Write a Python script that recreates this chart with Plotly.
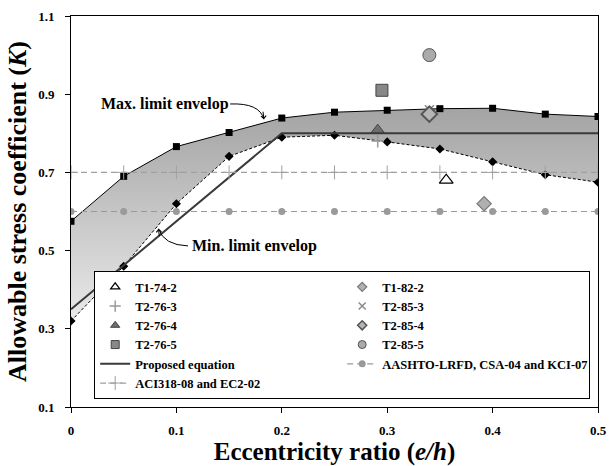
import plotly.graph_objects as go

# Eccentricity ratios at which the envelopes and code limits are evaluated
ecc = [0, 0.05, 0.1, 0.15, 0.2, 0.25, 0.3, 0.35, 0.4, 0.45, 0.5]
k_max = [0.575, 0.69, 0.766, 0.802, 0.839, 0.854, 0.859, 0.863, 0.864, 0.849, 0.843]
k_min = [0.32, 0.46, 0.62, 0.741, 0.79, 0.795, 0.778, 0.76, 0.727, 0.694, 0.675]

# Proposed equation (linear up to e/h = 0.2, then constant)
prop_x = [0, 0.2, 0.5]
prop_k = [0.35, 0.8, 0.8]

# Code limits
aci_k = [0.7] * len(ecc)
aashto_k = [0.6] * len(ecc)

# Axis tick labels
x_ticks = [0, 0.1, 0.2, 0.3, 0.4, 0.5]
x_tick_text = ["0", "0.1", "0.2", "0.3", "0.4", "0.5"]
y_ticks = [0.1, 0.3, 0.5, 0.7, 0.9, 1.1]
y_tick_text = ["0.1", "0.3", "0.5", "0.7", "0.9", "1.1"]

# Test results
tests = {
    "T1-74-2": (0.356, 0.68),
    "T1-82-2": (0.392, 0.62),
    "T2-76-3": (0.291, 0.78),
    "T2-85-3": (0.34, 0.86),
    "T2-76-4": (0.291, 0.808),
    "T2-85-4": (0.34, 0.849),
    "T2-76-5": (0.295, 0.91),
    "T2-85-5": (0.34, 1.0),
}

SERIF = "Liberation Serif"

test_style = {
    "T1-74-2": dict(symbol="triangle-up", size=12, color="white", line=dict(color="black", width=1.2)),
    "T1-82-2": dict(symbol="diamond", size=11, color="#b0b0b0", line=dict(color="#777777", width=1.2)),
    "T2-76-3": dict(symbol="cross-thin", size=9, color="#999999", line=dict(color="#999999", width=1.5)),
    "T2-85-3": dict(symbol="x-thin", size=9, color="#888888", line=dict(color="#888888", width=1.5)),
    "T2-76-4": dict(symbol="triangle-up", size=12, color="#6e6e6e", line=dict(color="#444444", width=1)),
    "T2-85-4": dict(symbol="diamond", size=12, color="#b5b5b5", line=dict(color="#555555", width=2)),
    "T2-76-5": dict(symbol="square", size=12, color="#888888", line=dict(color="#444444", width=1)),
    "T2-85-5": dict(symbol="circle", size=13, color="#aaaaaa", line=dict(color="#555555", width=1)),
}
# Smaller glyphs for the legend key
legend_size = {"T1-74-2": 8, "T1-82-2": 7, "T2-76-3": 8, "T2-85-3": 7,
               "T2-76-4": 8, "T2-85-4": 7, "T2-76-5": 8, "T2-85-5": 8}

fig = go.Figure()

# Max. limit envelope
fig.add_trace(go.Scatter(
    x=ecc, y=k_max, mode="lines+markers", showlegend=False,
    line=dict(color="black", width=1),
    marker=dict(symbol="square", size=7, color="black"),
))
# Min. limit envelope, shaded up to the max. envelope
fig.add_trace(go.Scatter(
    x=ecc, y=k_min, mode="lines+markers", showlegend=False,
    fill="tonexty",
    fillgradient=dict(type="vertical", start=0.3, stop=0.86,
                      colorscale=[[0, "#ececec"], [1, "#a4a4a4"]]),
    line=dict(color="black", width=1, dash="3px,2px"),
    marker=dict(symbol="diamond", size=7, color="black"),
))

order = ["T1-74-2", "T1-82-2", "T2-76-3", "T2-85-3",
         "T2-76-4", "T2-85-4", "T2-76-5", "T2-85-5"]

for name in order:
    x, y = tests[name]
    fig.add_trace(go.Scatter(x=[x], y=[y], mode="markers", name=name,
                             legendgroup=name, showlegend=False,
                             marker=test_style[name]))

# Legend runs row-wise in two columns
for name in order:
    st = dict(test_style[name])
    st["size"] = legend_size[name]
    line = dict(st["line"])
    line["width"] = min(line["width"], 1.5)
    st["line"] = line
    fig.add_trace(go.Scatter(x=[None], y=[None], mode="markers", name=name,
                             legendgroup=name, marker=st))

fig.add_trace(go.Scatter(
    x=prop_x, y=prop_k, mode="lines", name="Proposed equation",
    line=dict(color="#3a3a3a", width=2),
))
fig.add_trace(go.Scatter(
    x=ecc, y=aashto_k, mode="lines+markers", name="AASHTO-LRFD, CSA-04 and KCI-07",
    line=dict(color="#9a9a9a", width=1.2, dash="6px,4px"),
    marker=dict(symbol="circle", size=7, color="#9a9a9a"),
))
fig.add_trace(go.Scatter(
    x=ecc, y=aci_k, mode="lines+markers", name="ACI318-08 and EC2-02",
    line=dict(color="#a0a0a0", width=1.2, dash="6px,4px"),
    marker=dict(symbol="cross-thin", size=10, color="#a0a0a0",
                line=dict(color="#a0a0a0", width=1)),
))

# Callouts for the envelopes
max_label = dict(text="Max. limit envelop", x=0.0266, y=0.876)
max_curve = "M 0.151,0.875 Q 0.179,0.878 0.183,0.836"
min_label = dict(text="Min. limit envelop", x=0.113, y=0.512)
min_curve = "M 0.111,0.512 Q 0.088,0.514 0.083,0.556"

for lbl in (max_label, min_label):
    fig.add_annotation(x=lbl["x"], y=lbl["y"], text=lbl["text"], showarrow=False,
                       xanchor="left", yanchor="middle",
                       font=dict(family=SERIF, size=16, color="black", weight="bold"))
for path in (max_curve, min_curve):
    fig.add_shape(type="path", path=path, xref="x", yref="y",
                  line=dict(color="black", width=1))
fig.add_annotation(x=0.183, y=0.836, ax=-1, ay=-9, text="", showarrow=True,
                   arrowhead=4, arrowsize=1, arrowwidth=1, arrowcolor="black")
fig.add_annotation(x=0.083, y=0.556, ax=1, ay=9, text="", showarrow=True,
                   arrowhead=4, arrowsize=1, arrowwidth=1, arrowcolor="black")

axis_common = dict(
    showline=True, linecolor="black", linewidth=1, mirror=True,
    ticks="outside", ticklen=5, tickcolor="black",
    showgrid=False, zeroline=False,
    tickfont=dict(family=SERIF, size=13, color="black", weight="bold"),
)

fig.update_layout(
    width=615, height=466,
    margin=dict(l=71, r=17, t=16, b=59, autoexpand=False),
    paper_bgcolor="white", plot_bgcolor="white",
    xaxis=dict(range=[0, 0.5], tickmode="array", tickvals=x_ticks, ticktext=x_tick_text,
               ticklabelstandoff=6,
               title=dict(text="Eccentricity ratio (<i>e/h</i>)", standoff=5,
                          font=dict(family=SERIF, size=25, color="black", weight="bold")),
               **axis_common),
    yaxis=dict(range=[0.1, 1.1], tickmode="array", tickvals=y_ticks, ticktext=y_tick_text,
               ticklabelstandoff=8,
               title=dict(text="Allowable stress coefficient (<i>K</i>)", standoff=4,
                          font=dict(family=SERIF, size=26, color="black", weight="bold")),
               **axis_common),
    legend=dict(
        orientation="h", x=0.044, y=0.02, xanchor="left", yanchor="bottom",
        entrywidth=202, traceorder="normal", itemwidth=30,
        bgcolor="white", bordercolor="black", borderwidth=1,
        font=dict(family=SERIF, size=12.5, color="black", weight="bold"),
    ),
    showlegend=True,
)

fig.write_html("out.html")
